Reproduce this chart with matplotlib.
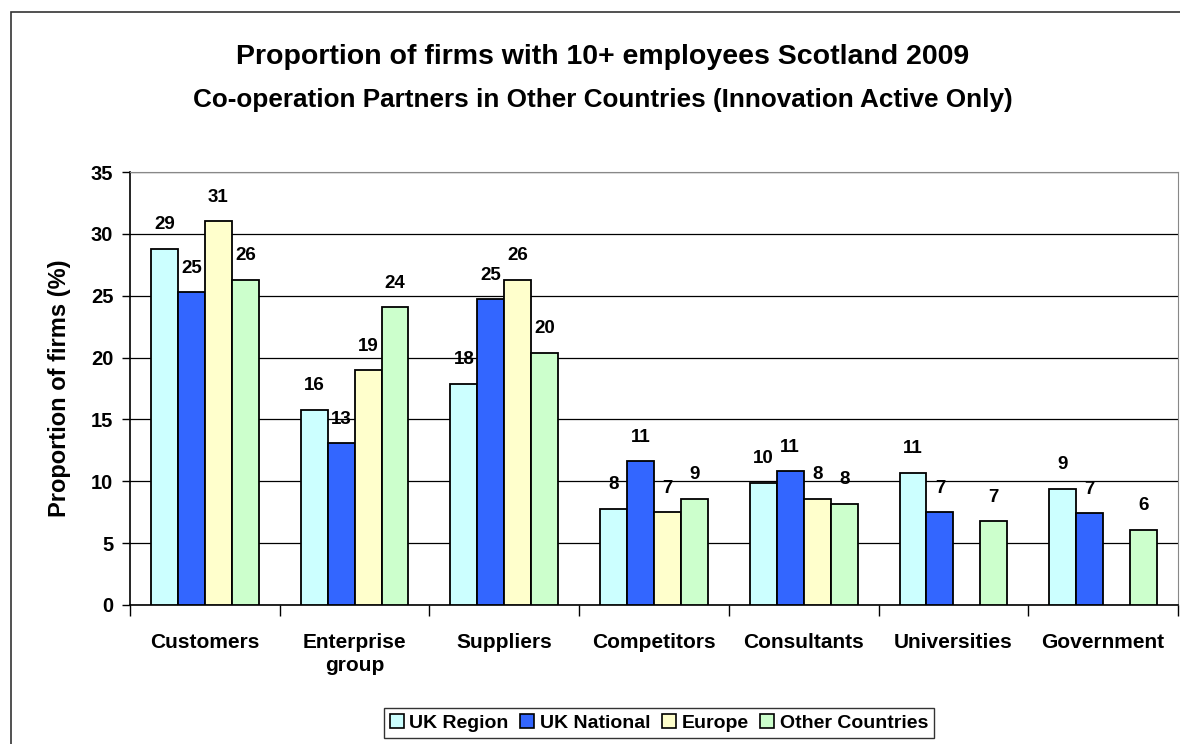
import matplotlib.pyplot as plt
import numpy as np
from matplotlib.patches import Rectangle

plt.rcParams['font.family'] = ['Liberation Sans', 'DejaVu Sans']
plt.rcParams['font.weight'] = 'bold'

# --- date ---
categorii = ['Customers', 'Enterprise\ngroup', 'Suppliers', 'Competitors',
             'Consultants', 'Universities', 'Government']
serii = ['UK Region', 'UK National', 'Europe', 'Other Countries']

uk_region = [28.8, 15.8, 17.9, 7.8, 9.9, 10.7, 9.4]
uk_national = [25.3, 13.1, 24.7, 11.6, 10.8, 7.5, 7.4]
europe = [31.0, 19.0, 26.3, 7.5, 8.6, np.nan, np.nan]
other = [26.3, 24.1, 20.4, 8.6, 8.2, 6.8, 6.1]

etichete = [
    ['29', '16', '18', '8', '10', '11', '9'],
    ['25', '13', '25', '11', '11', '7', '7'],
    ['31', '19', '26', '7', '8', '', ''],
    ['26', '24', '20', '9', '8', '7', '6'],
]
culori = ['#CCFFFF', '#3366FF', '#FFFFCC', '#CCFFCC']

# --- figura ---
fig = plt.figure(figsize=(11.8, 7.44), dpi=100)
fig.patches.append(Rectangle((11 / 1180, -0.05), 1.1, 1 - 12 / 744 + 0.05,
                             transform=fig.transFigure, fill=False,
                             edgecolor='#333333', linewidth=1.2))
fig.text(0.004, 1.012, 'Figure 23: Proportion of firms by geography, Innovation Active Only, 2009',
         fontsize=11, va='center', ha='left', fontweight='normal')

ax = fig.add_axes([130 / 1180, 139 / 744, 1048 / 1180, 433 / 744])

x = np.arange(len(categorii))
w = 0.18
valori = [uk_region, uk_national, europe, other]
for i, (vals, c) in enumerate(zip(valori, culori)):
    pos = x + (i - 1.5) * w
    ax.bar(pos, vals, w, color=c, edgecolor='black', linewidth=1.3,
           label=serii[i], zorder=3)
    for p, v, t in zip(pos, vals, etichete[i]):
        if t and not np.isnan(v):
            ax.annotate(t, (p, v), xytext=(0, 11), textcoords='offset points',
                        ha='center', va='bottom', fontsize=13.5, fontweight='bold')

ax.set_xlim(-0.5, len(categorii) - 0.5)
ax.set_ylim(0, 35)
ax.set_yticks(range(0, 36, 5))
ax.yaxis.grid(True, color='black', linewidth=0.9, zorder=0)
ax.set_axisbelow(True)

ax.set_xticks(x)
ax.set_xticklabels(categorii, fontsize=15, fontweight='bold', linespacing=1.25)
ax.tick_params(axis='x', length=0, pad=20)
ax.set_xticks(np.arange(-0.5, len(categorii), 1), minor=True)
ax.tick_params(axis='x', which='minor', length=8, direction='out', width=1)
ax.tick_params(axis='y', length=6, direction='out', labelsize=14.5, width=1, pad=6)
for lbl in ax.get_yticklabels():
    lbl.set_fontweight('bold')

ax.spines['left'].set_linewidth(1.2)
ax.spines['bottom'].set_linewidth(1.2)
ax.spines['top'].set_color('#888888')
ax.spines['right'].set_color('#888888')

ax.set_ylabel('Proportion of firms (%)', fontsize=17, fontweight='bold', labelpad=14)

fig.text(603 / 1180, 1 - 57 / 744, 'Proportion of firms with 10+ employees Scotland 2009',
         ha='center', va='center', fontsize=20.5, fontweight='bold')
fig.text(603 / 1180, 1 - 100 / 744, 'Co-operation Partners in Other Countries (Innovation Active Only)',
         ha='center', va='center', fontsize=18.8, fontweight='bold')

leg = fig.legend(loc='center', bbox_to_anchor=(659 / 1180, 1 - 723 / 744), ncol=4,
                 frameon=True, fancybox=False, edgecolor='black', fontsize=14,
                 handlelength=0.7, handleheight=0.7, handletextpad=0.3,
                 columnspacing=0.6, borderpad=0.3)
leg.get_frame().set_linewidth(1.0)
for h in leg.legend_handles:
    h.set_linewidth(1.2)

fig.savefig('out.png', dpi=100)
